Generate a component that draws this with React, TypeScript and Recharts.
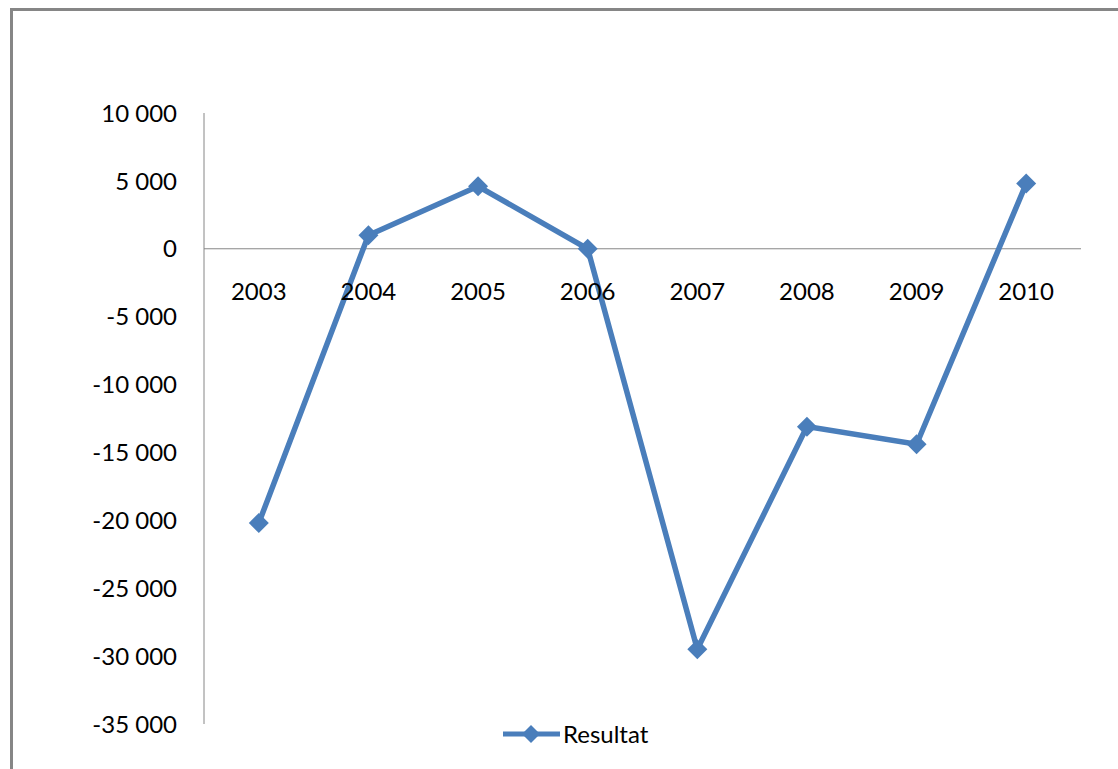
import React from 'react';
import { LineChart, Line, XAxis, YAxis, ReferenceLine, Legend } from 'recharts';

// Yearly result series
const years = ['2003', '2004', '2005', '2006', '2007', '2008', '2009', '2010'];
const resultat = [-20200, 1000, 4600, 0, -29500, -13100, -14400, 4800];
const yTicks = [10000, 5000, 0, -5000, -10000, -15000, -20000, -25000, -30000, -35000];
const seriesName = 'Resultat';

const data = years.map((year, i) => ({ year, [seriesName]: resultat[i] }));

const W = 1118;
const H = 769;
const PLOT_TOP = 113;
const PLOT_BOTTOM = 724;
const PLOT_LEFT = 204;
const PLOT_RIGHT = 1081;
const Y_MIN = -35000;
const Y_MAX = 10000;
// The category axis crosses the value axis at zero
const ZERO_Y = PLOT_TOP + (PLOT_BOTTOM - PLOT_TOP) * (Y_MAX / (Y_MAX - Y_MIN));

const BLUE = '#4A7EBB';
const AXIS = '#868686';
const FONT = 'Lato, "Open Sans", sans-serif';
const FONT_SIZE = 24;

const fmt = (v: number) => {
  const s = Math.abs(v).toString().replace(/\B(?=(\d{3})+(?!\d))/g, ' ');
  return (v < 0 ? '-' : '') + s;
};

const diamondPath = (cx: number, cy: number, r: number) =>
  `M${cx},${cy - r}L${cx + r},${cy}L${cx},${cy + r}L${cx - r},${cy}Z`;

const Diamond = (props: any) => {
  const { cx, cy } = props;
  if (cx == null || cy == null) return null;
  return <path d={diamondPath(cx, cy, 10)} fill={BLUE} stroke="none" />;
};

const YearTick = (props: any) => {
  const { x, payload } = props;
  return (
    <text
      x={x}
      y={ZERO_Y + 43}
      dy="0.36em"
      textAnchor="middle"
      fill="#000"
      fontFamily={FONT}
      fontSize={FONT_SIZE}
    >
      {payload.value}
    </text>
  );
};

const ValueTick = (props: any) => {
  const { y, payload } = props;
  return (
    <text
      x={PLOT_LEFT - 27}
      y={y}
      dy="0.36em"
      textAnchor="end"
      fill="#000"
      fontFamily={FONT}
      fontSize={FONT_SIZE}
    >
      {fmt(payload.value)}
    </text>
  );
};

const LegendContent = () => (
  <svg width={170} height={32} style={{ display: 'block' }}>
    <line x1={3} y1={16} x2={60} y2={16} stroke={BLUE} strokeWidth={5} />
    <path d={diamondPath(31, 16, 9)} fill={BLUE} />
    <text x={63} y={16} dy="0.36em" fill="#000" fontFamily={FONT} fontSize={FONT_SIZE}>
      {seriesName}
    </text>
  </svg>
);

export default function App() {
  return (
    <div
      style={{
        position: 'absolute',
        left: 0,
        top: 0,
        width: W,
        height: H,
        overflow: 'hidden',
        background: '#fff',
      }}
    >
      <div
        style={{
          position: 'absolute',
          left: 10,
          top: 8,
          width: 2000,
          height: 2000,
          border: `3px solid ${AXIS}`,
        }}
      />
      <div style={{ position: 'absolute', left: 0, top: 0 }}>
        <LineChart
          width={W}
          height={H}
          data={data}
          margin={{ top: PLOT_TOP, right: W - PLOT_RIGHT, bottom: 0, left: 0 }}
        >
          <XAxis
            dataKey="year"
            height={H - PLOT_BOTTOM}
            axisLine={false}
            tickLine={false}
            padding={{ left: 54.8, right: 54.8 }}
            tick={<YearTick />}
            interval={0}
          />
          <YAxis
            type="number"
            domain={[Y_MIN, Y_MAX]}
            ticks={yTicks}
            width={PLOT_LEFT}
            axisLine={{ stroke: AXIS, strokeWidth: 1 }}
            tickLine={false}
            tick={<ValueTick />}
            interval={0}
          />
          <ReferenceLine y={0} stroke={AXIS} strokeWidth={1} />
          <Line
            type="linear"
            dataKey={seriesName}
            stroke={BLUE}
            strokeWidth={5.5}
            dot={(p: any) => <Diamond key={`d-${p.index}`} {...p} />}
            activeDot={false}
            isAnimationActive={false}
          />
          <Legend
            layout="horizontal"
            verticalAlign="middle"
            align="center"
            wrapperStyle={{ top: 718, left: 500, width: 170, height: 32 }}
            content={<LegendContent />}
          />
        </LineChart>
      </div>
    </div>
  );
}
